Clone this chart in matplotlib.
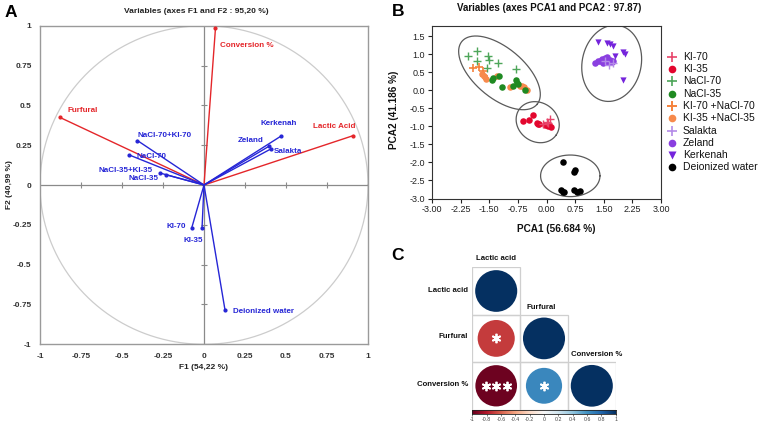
import numpy as np
import matplotlib
matplotlib.use('Agg')
import matplotlib.pyplot as plt
from matplotlib.patches import Circle, Rectangle

plt.rcParams['font.family'] = ['Liberation Sans', 'DejaVu Sans']
plt.rcParams['axes.unicode_minus'] = False

W, H = 765, 430

# ---------------- Panel A data ----------------
a_title = 'Variables (axes F1 and F2 : 95,20 %)'
a_xlabel = 'F1 (54,22 %)'
a_ylabel = 'F2 (40,99 %)'
a_ticks = [-1, -0.75, -0.5, -0.25, 0, 0.25, 0.5, 0.75, 1]
a_ticklabels = ['-1', '-0.75', '-0.5', '-0.25', '0', '0.25', '0.5', '0.75', '1']
resp_names = ['Conversion %', 'Furfural', 'Lactic Acid']
resp_f1 = [0.07, -0.88, 0.91]
resp_f2 = [0.985, 0.425, 0.31]
cond_names = ['Kerkenah', 'Zeland', 'Salakta', 'NaCl-70+KI-70', 'NaCl-70',
              'NaCl-35+KI-35', 'NaCl-35', 'KI-70', 'KI-35', 'Deionized water']
cond_f1 = [0.468, 0.396, 0.407, -0.406, -0.457, -0.268, -0.233, -0.075, -0.012, 0.128]
cond_f2 = [0.306, 0.243, 0.226, 0.279, 0.189, 0.075, 0.065, -0.27, -0.27, -0.784]
# label anchor positions (layout)
resp_label_pos = [(0.10, 0.876), (-0.83, 0.467), (0.667, 0.369)]
cond_label_pos = [(0.346, 0.384), (0.205, 0.279), (0.425, 0.211), (-0.405, 0.308),
                  (-0.41, 0.18), (-0.642, 0.09), (-0.459, 0.038), (-0.227, -0.262),
                  (-0.124, -0.35), (0.175, -0.797)]

# ---------------- Panel B data ----------------
b_title = 'Variables (axes PCA1 and PCA2 : 97.87)'
b_xlabel = 'PCA1 (56.684 %)'
b_ylabel = 'PCA2 (41.186 %)'
b_xticks = [-3.00, -2.25, -1.50, -0.75, 0.00, 0.75, 1.50, 2.25, 3.00]
b_yticks = [-3.0, -2.5, -2.0, -1.5, -1.0, -0.5, 0.0, 0.5, 1.0, 1.5]
ki70_x = [0.09, 0.00, -0.10, 0.05]
ki70_y = [-0.78, -0.88, -0.92, -0.90]
ki35_x = [-0.62, -0.45, -0.35, -0.26, -0.19, -0.04, 0.03, 0.11, -0.22, 0.07]
ki35_y = [-0.86, -0.81, -0.68, -0.90, -0.92, -0.95, -0.98, -1.02, -0.93, -0.95]
nacl70_x = [-2.05, -1.83, -1.83, -1.52, -1.50, -1.26, -1.55, -0.80]
nacl70_y = [0.95, 1.10, 0.82, 0.95, 0.84, 0.75, 0.63, 0.60]
nacl35_x = [-1.44, -1.39, -1.24, -1.17, -0.89, -0.80, -0.74, -0.56, -0.78]
nacl35_y = [0.28, 0.35, 0.39, 0.10, 0.13, 0.28, 0.19, 0.00, 0.22]
ki70nacl70_x = [-1.93, -1.76, -1.66, -1.63]
ki70nacl70_y = [0.62, 0.65, 0.53, 0.40]
ki35nacl35_x = [-1.70, -1.64, -1.59, -1.29, -0.96, -0.69, -0.59, -0.50, -0.64]
ki35nacl35_y = [0.47, 0.39, 0.32, 0.41, 0.10, 0.13, 0.10, 0.02, 0.12]
salakta_x = [1.65, 1.75, 1.53]
salakta_y = [0.72, 0.76, 0.81]
zeland_x = [1.27, 1.36, 1.45, 1.58, 1.66, 1.75, 1.49, 1.72, 1.40, 1.58, 1.53, 1.62]
zeland_y = [0.76, 0.83, 0.87, 0.93, 0.85, 0.83, 0.76, 0.78, 0.81, 0.84, 0.90, 0.80]
kerkenah_x = [1.36, 1.58, 1.66, 1.75, 1.79, 2.00, 2.06, 2.00]
kerkenah_y = [1.36, 1.33, 1.30, 1.24, 0.96, 1.06, 1.02, 0.28]
water_x = [0.43, 0.72, 0.75, 0.37, 0.42, 0.47, 0.72, 0.80, 0.87]
water_y = [-1.99, -2.27, -2.22, -2.76, -2.83, -2.82, -2.76, -2.81, -2.78]
group_labels = ['KI-70', 'KI-35', 'NaCl-70', 'NaCl-35', 'KI-70 +NaCl-70',
                'KI-35 +NaCl-35', 'Salakta', 'Zeland', 'Kerkenah', 'Deionized water']

# ---------------- Panel C data ----------------
c_vars = ['Lactic acid', 'Furfural', 'Conversion %']
c_row1 = [1.0]
c_row2 = [-0.70, 1.0]
c_row3 = [-0.98, 0.65, 1.0]
c_stars = [[''], ['*', ''], ['***', '*', '']]
cb_ticks = [-1, -0.8, -0.6, -0.4, -0.2, 0, 0.2, 0.4, 0.6, 0.8, 1]
cb_ticklabels = ['-1', '-0.8', '-0.6', '-0.4', '-0.2', '0', '0.2', '0.4', '0.6', '0.8', '1']


def fpos(x0, y0, x1, y1):
    return [x0 / W, 1 - y1 / H, (x1 - x0) / W, (y1 - y0) / H]


fig = plt.figure(figsize=(W / 100, H / 100), dpi=100)

# ================= Panel A =================
axA = fig.add_axes(fpos(40, 25.7, 368, 344.3))
axA.set_xlim(-1, 1)
axA.set_ylim(-1, 1)
th = np.linspace(0, 2 * np.pi, 500)
axA.plot(np.cos(th), np.sin(th), color='#cccccc', lw=0.9, zorder=1)
axA.axhline(0, color='#8a8a8a', lw=0.9, zorder=1)
axA.axvline(0, color='#8a8a8a', lw=0.9, zorder=1)
inner = [t for t in a_ticks if t not in (-1, 0, 1)]
axA.plot(inner, [0] * len(inner), ls='none', marker='|', ms=5, mew=0.8, color='#8a8a8a')
axA.plot([0] * len(inner), inner, ls='none', marker='_', ms=5, mew=0.8, color='#8a8a8a')
for sp in axA.spines.values():
    sp.set_color('#9a9a9a')
    sp.set_linewidth(1.0)
axA.set_xticks(a_ticks)
axA.set_xticklabels(a_ticklabels)
axA.set_yticks(a_ticks)
axA.set_yticklabels(a_ticklabels)
axA.tick_params(length=0, labelsize=6, colors='#333333', pad=6)
for lab in axA.get_xticklabels() + axA.get_yticklabels():
    lab.set_fontweight('bold')

red = '#e4262a'
blue = '#2626d6'
for x, y in zip(resp_f1, resp_f2):
    axA.plot([0, x], [0, y], color=red, lw=1.0, zorder=3)
axA.plot(resp_f1, resp_f2, ls='none', marker='o', ms=2, color=red, zorder=4)
for x, y in zip(cond_f1, cond_f2):
    axA.plot([0, x], [0, y], color=blue, lw=1.0, zorder=3)
axA.plot(cond_f1, cond_f2, ls='none', marker='o', ms=2, color=blue, zorder=4)
for name, (lx, ly) in zip(resp_names, resp_label_pos):
    axA.text(lx, ly, name, color=red, fontsize=5.8, fontweight='bold', ha='left', va='center', zorder=5)
for name, (lx, ly) in zip(cond_names, cond_label_pos):
    axA.text(lx, ly, name, color=blue, fontsize=5.8, fontweight='bold', ha='left', va='center', zorder=5)

# ================= Panel B =================
axB = fig.add_axes(fpos(432, 25.7, 661, 198.5))
axB.set_xlim(-3.0, 3.0)
axB.set_ylim(-3.0, 1.8)
axB.set_xticks(b_xticks)
axB.set_xticklabels(['%.2f' % v for v in b_xticks])
axB.set_yticks(b_yticks)
axB.set_yticklabels(['%.1f' % v for v in b_yticks])
axB.tick_params(direction='out', length=3, width=0.8, labelsize=6.5, colors='#222222', pad=2)
for sp in axB.spines.values():
    sp.set_color('#333333')
    sp.set_linewidth(0.8)

c_ki70 = '#e8446a'
c_ki35 = '#e3062e'
c_nacl70 = '#4ea65a'
c_nacl35 = '#1f8a22'
c_mix70 = '#f5823c'
c_mix35 = '#f78a4c'
c_sal = '#b48be8'
c_zel = '#8a3fe0'
c_ker = '#7524dc'
c_wat = '#000000'

axB.scatter(nacl70_x, nacl70_y, marker='+', s=30, lw=1.0, color=c_nacl70, zorder=3)
axB.scatter(ki70nacl70_x, ki70nacl70_y, marker='+', s=30, lw=1.2, color=c_mix70, zorder=3)
axB.scatter(ki35nacl35_x, ki35nacl35_y, marker='o', s=22, color=c_mix35, lw=0, zorder=3)
axB.scatter(nacl35_x, nacl35_y, marker='o', s=22, color=c_nacl35, lw=0, zorder=4)
axB.scatter(ki35_x, ki35_y, marker='o', s=22, color=c_ki35, lw=0, zorder=3)
axB.scatter(ki70_x, ki70_y, marker='+', s=30, lw=1.0, color=c_ki70, zorder=4)
axB.scatter(zeland_x, zeland_y, marker='o', s=22, color=c_zel, lw=0, zorder=3)
axB.scatter(salakta_x, salakta_y, marker='+', s=30, lw=1.0, color=c_sal, zorder=4)
axB.scatter(kerkenah_x, kerkenah_y, marker='v', s=20, color=c_ker, lw=0, zorder=3)
axB.scatter(water_x, water_y, marker='o', s=22, color=c_wat, lw=0, zorder=3)


def pix_ellipse(ax, cx, cy, a_px, b_px, ang):
    t = np.linspace(0, 2 * np.pi, 300)
    ca, sa = np.cos(np.radians(ang)), np.sin(np.radians(ang))
    px = a_px * np.cos(t) * ca - b_px * np.sin(t) * sa
    py = a_px * np.cos(t) * sa + b_px * np.sin(t) * ca
    bb = ax.get_window_extent()
    xr = ax.get_xlim()
    yr = ax.get_ylim()
    sx = bb.width / (xr[1] - xr[0])
    sy = bb.height / (yr[1] - yr[0])
    ax.plot(cx + px / sx, cy + py / sy, color='#5a5a5a', lw=0.9, zorder=2)


pix_ellipse(axB, -1.232, 0.49, 49, 25, -40)
pix_ellipse(axB, -0.231, -0.88, 22.5, 19.5, -35)
pix_ellipse(axB, 0.623, -2.37, 29.7, 20.8, 0)
pix_ellipse(axB, 1.708, 0.756, 38.5, 29.5, 78)

# ================= Panel C =================
axC = fig.add_axes(fpos(472.3, 267.3, 615.7, 409.5))
axC.set_xlim(0, 3)
axC.set_ylim(3, 0)
axC.axis('off')
cmap = plt.get_cmap('RdBu')
rows = [c_row1, c_row2, c_row3]
for i, row in enumerate(rows):
    for j, val in enumerate(row):
        axC.add_patch(Rectangle((j, i), 1, 1, fill=False, ec='#cfcfcf', lw=0.9))
        r = 0.44 * np.sqrt(abs(val)) if abs(val) > 0.9 else 0.44 * abs(val) ** 0.35
        axC.add_patch(Circle((j + 0.5, i + 0.5), r, fc=cmap((val + 1) / 2), ec='none'))
        st = c_stars[i][j]
        n = len(st)
        if n:
            xs = [j + 0.5 + (k - (n - 1) / 2) * 0.22 for k in range(n)]
            axC.plot(xs, [i + 0.5] * n, ls='none', marker=(6, 2, 0), ms=6.8, mew=1.3, color='white')

axCB = fig.add_axes(fpos(472.3, 410, 615.7, 414))
grad = np.linspace(-1, 1, 256).reshape(1, -1)
axCB.imshow(grad, cmap=cmap, aspect='auto', extent=(-1, 1, 0, 1), vmin=-1, vmax=1)
axCB.set_yticks([])
axCB.set_xticks(cb_ticks)
axCB.set_xticklabels(cb_ticklabels)
axCB.tick_params(axis='x', length=1.5, width=0.5, labelsize=3.8, pad=1, colors='#444444')
for sp in axCB.spines.values():
    sp.set_linewidth(0.6)
    sp.set_color('#222222')

# ================= Overlay texts =================
ov = fig.add_axes([0, 0, 1, 1])
ov.set_xlim(0, W)
ov.set_ylim(H, 0)
ov.axis('off')
ov.patch.set_alpha(0)

ov.text(11, 12.5, 'A', fontsize=12.5, fontweight='bold', ha='center', va='center')
ov.text(398, 11, 'B', fontsize=12.5, fontweight='bold', ha='center', va='center')
ov.text(398, 255, 'C', fontsize=12.5, fontweight='bold', ha='center', va='center')

ov.text(196, 11.7, a_title, fontsize=6, fontweight='bold', ha='center', va='center', color='#222222')
ov.text(203.5, 367.5, a_xlabel, fontsize=6, fontweight='bold', ha='center', va='center', color='#222222')
ov.text(9.5, 185, a_ylabel, fontsize=6, fontweight='bold', ha='center', va='center', rotation=90, color='#222222')

ov.text(549, 8, b_title, fontsize=7, fontweight='bold', ha='center', va='center', color='#111111')
ov.text(556, 229, b_xlabel, fontsize=7.2, fontweight='bold', ha='center', va='center', color='#111111')
ov.text(394, 110, b_ylabel, fontsize=7.2, fontweight='bold', ha='center', va='center', rotation=90, color='#111111')

# legend
leg_styles = [('+', c_ki70, 7, 1.2), ('o', c_ki35, 5.5, 0), ('+', c_nacl70, 7, 1.2), ('o', c_nacl35, 5.5, 0),
              ('+', c_mix70, 7, 1.4), ('o', c_mix35, 5.5, 0), ('+', c_sal, 7, 1.2), ('o', c_zel, 5.5, 0),
              ('v', c_ker, 5.5, 0), ('o', c_wat, 5.5, 0)]
for k, (lab, (mk, col, ms, mew)) in enumerate(zip(group_labels, leg_styles)):
    yy = 56.7 + k * 12.3
    if mew:
        ov.plot([672], [yy], ls='none', marker=mk, ms=ms, mew=mew, color=col)
    else:
        ov.plot([672], [yy], ls='none', marker=mk, ms=ms, color=col, mec='none')
    ov.text(683, yy, lab, fontsize=7.5, ha='left', va='center', color='#111111')

# panel C labels
ov.text(496, 259, c_vars[0], fontsize=5.6, fontweight='bold', ha='center', va='center', color='#111111')
ov.text(541.5, 307.3, c_vars[1], fontsize=5.6, fontweight='bold', ha='center', va='center', color='#111111')
ov.text(596.5, 354.7, c_vars[2], fontsize=5.6, fontweight='bold', ha='center', va='center', color='#111111')
ov.text(468.3, 291, c_vars[0], fontsize=5.6, fontweight='bold', ha='right', va='center', color='#111111')
ov.text(468.3, 337, c_vars[1], fontsize=5.6, fontweight='bold', ha='right', va='center', color='#111111')
ov.text(468.3, 385, c_vars[2], fontsize=5.6, fontweight='bold', ha='right', va='center', color='#111111')

fig.savefig('out.png', dpi=100)
